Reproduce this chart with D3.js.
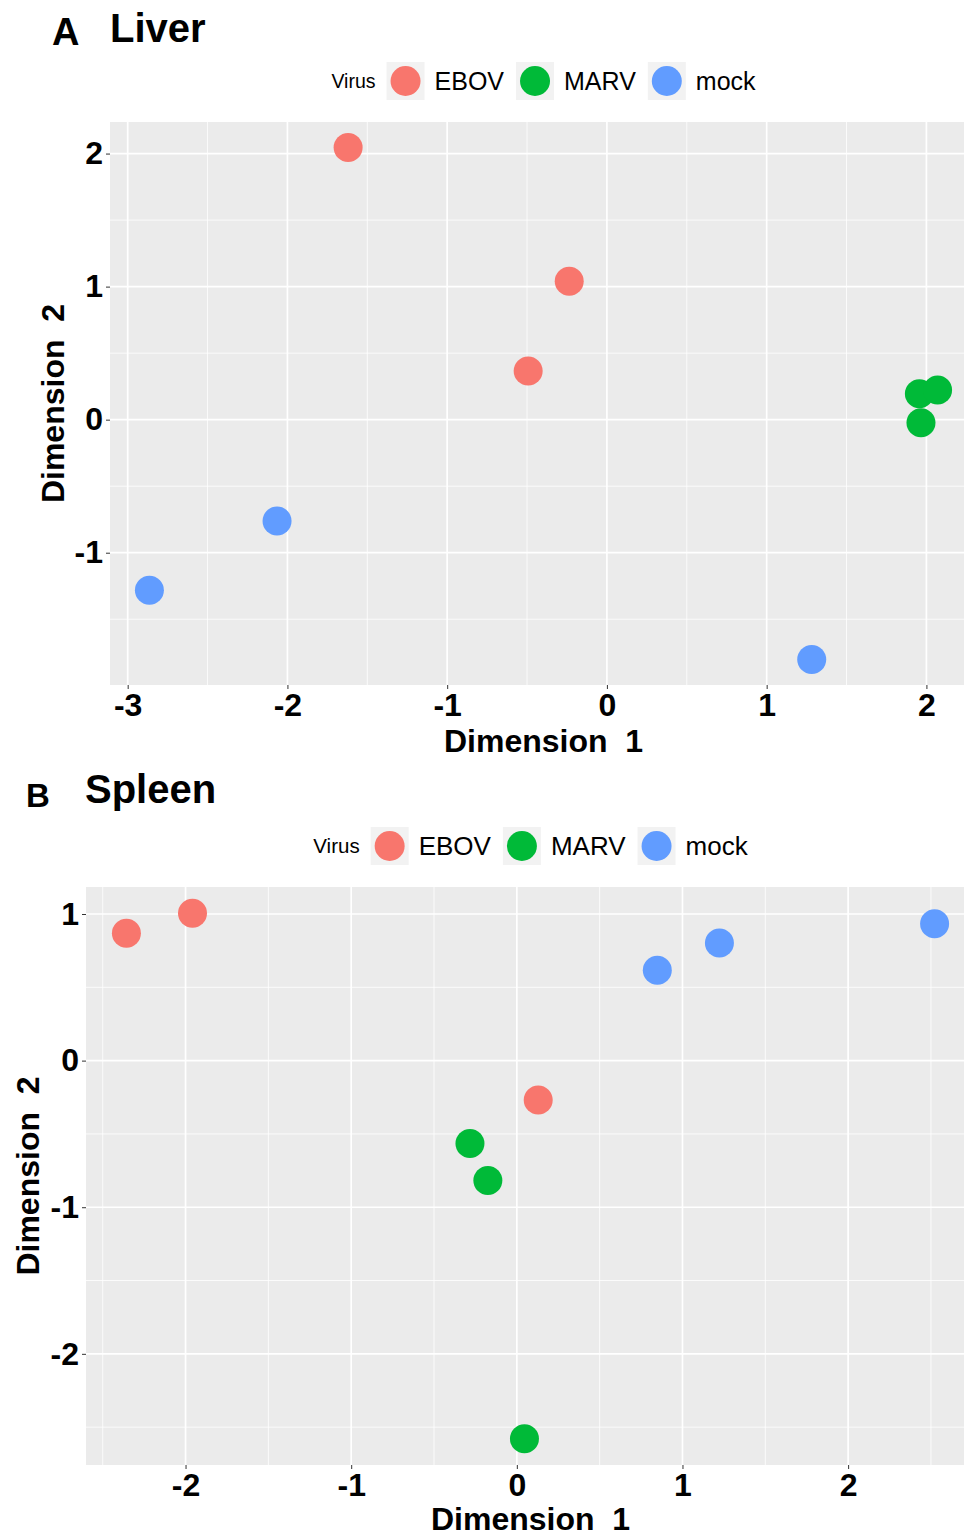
<!DOCTYPE html>
<html>
<head>
<meta charset="utf-8">
<script src="https://cdn.jsdelivr.net/npm/d3@7"></script>
<style>
  html, body { margin: 0; padding: 0; background: #fff; }
  svg { display: block; font-family: "Liberation Sans", Arial, Helvetica, sans-serif; }
</style>
</head>
<body>
<div id="chart"></div>
<script>
"use strict";

const virusLevels = ["EBOV", "MARV", "mock"];
const virusColors = ["#F8766D", "#00BA38", "#619CFF"];

// Panel A: liver MDS coordinates
const liverVirus = ["EBOV", "EBOV", "EBOV", "MARV", "MARV", "MARV", "mock", "mock", "mock"];
const liverDim1 = [-1.62, -0.236, -0.493, 1.956, 2.07, 1.966, -2.065, -2.864, 1.282];
const liverDim2 = [2.045, 1.04, 0.365, 0.195, 0.223, -0.023, -0.762, -1.283, -1.802];
const liverXTicks = [-3, -2, -1, 0, 1, 2];
const liverYTicks = [-1, 0, 1, 2];

// Panel B: spleen MDS coordinates
const spleenVirus = ["EBOV", "EBOV", "EBOV", "MARV", "MARV", "MARV", "mock", "mock", "mock"];
const spleenDim1 = [-2.357, -1.958, 0.129, -0.283, -0.175, 0.046, 0.848, 1.223, 2.522];
const spleenDim2 = [0.868, 1.005, -0.268, -0.566, -0.818, -2.579, 0.616, 0.802, 0.934];
const spleenXTicks = [-2, -1, 0, 1, 2];
const spleenYTicks = [-2, -1, 0, 1];

const width = 964;
const height = 1537;
const color = d3.scaleOrdinal().domain(virusLevels).range(virusColors);
// plain hyphen for negatives, like the R output
const tickText = (value) => String(value);

const svg = d3.select("#chart")
  .append("svg")
  .attr("width", width)
  .attr("height", height)
  .attr("viewBox", `0 0 ${width} ${height}`);

// ggplot-style 5% expansion of the data range
function expanded(values) {
  const [lo, hi] = d3.extent(values);
  const pad = (hi - lo) * 0.05;
  return [lo - pad, hi + pad];
}

function minorBreaks(ticks, domain) {
  const step = ticks[1] - ticks[0];
  const out = [ticks[0] - step / 2];
  ticks.forEach((t) => out.push(t + step / 2));
  return out.filter((v) => v > domain[0] && v < domain[1]);
}

function drawPanel(opts) {
  const { box, dim1, dim2, virus, xTicks, yTicks, letter, heading } = opts;
  const xDomain = expanded(dim1);
  const yDomain = expanded(dim2);
  const x = d3.scaleLinear().domain(xDomain).range([box.left, box.right]);
  const y = d3.scaleLinear().domain(yDomain).range([box.bottom, box.top]);
  const g = svg.append("g");

  // panel letter + heading
  g.append("text")
    .attr("x", letter.x)
    .attr("y", letter.y)
    .attr("font-size", letter.size)
    .attr("font-weight", 700)
    .attr("fill", "#000")
    .text(letter.text);

  g.append("text")
    .attr("x", heading.x)
    .attr("y", heading.y)
    .attr("font-size", 40)
    .attr("font-weight", 700)
    .attr("fill", "#000")
    .text(heading.text);

  // background
  g.append("rect")
    .attr("x", box.left)
    .attr("y", box.top)
    .attr("width", box.right - box.left)
    .attr("height", box.bottom - box.top)
    .attr("fill", "#EBEBEB");

  // minor grid
  g.selectAll("line.vminor")
    .data(minorBreaks(xTicks, xDomain))
    .join("line")
    .attr("x1", (d) => x(d)).attr("x2", (d) => x(d))
    .attr("y1", box.top).attr("y2", box.bottom)
    .attr("stroke", "#fff").attr("stroke-width", 0.8);

  g.selectAll("line.hminor")
    .data(minorBreaks(yTicks, yDomain))
    .join("line")
    .attr("x1", box.left).attr("x2", box.right)
    .attr("y1", (d) => y(d)).attr("y2", (d) => y(d))
    .attr("stroke", "#fff").attr("stroke-width", 0.8);

  // major grid
  g.selectAll("line.vmajor")
    .data(xTicks)
    .join("line")
    .attr("x1", (d) => x(d)).attr("x2", (d) => x(d))
    .attr("y1", box.top).attr("y2", box.bottom)
    .attr("stroke", "#fff").attr("stroke-width", 1.7);

  g.selectAll("line.hmajor")
    .data(yTicks)
    .join("line")
    .attr("x1", box.left).attr("x2", box.right)
    .attr("y1", (d) => y(d)).attr("y2", (d) => y(d))
    .attr("stroke", "#fff").attr("stroke-width", 1.7);

  // points
  const rows = dim1.map((v, i) => ({ d1: v, d2: dim2[i], virus: virus[i] }));
  g.selectAll("circle.pt")
    .data(rows)
    .join("circle")
    .attr("cx", (r) => x(r.d1))
    .attr("cy", (r) => y(r.d2))
    .attr("r", 14.5)
    .attr("fill", (r) => color(r.virus));

  // axes
  g.append("g")
    .attr("transform", `translate(0,${box.bottom})`)
    .call(d3.axisBottom(x).tickValues(xTicks).tickSize(4).tickPadding(4).tickFormat(tickText))
    .call((axis) => axis.select(".domain").remove())
    .call((axis) => axis.selectAll("line").attr("stroke", "#333"))
    .call((axis) => axis.selectAll("text")
      .attr("fill", "#000").attr("font-size", 32).attr("font-weight", 700)
      .attr("font-family", "Liberation Sans, Arial, sans-serif"));

  g.append("g")
    .attr("transform", `translate(${box.left},0)`)
    .call(d3.axisLeft(y).tickValues(yTicks).tickSize(4).tickPadding(3).tickFormat(tickText))
    .call((axis) => axis.select(".domain").remove())
    .call((axis) => axis.selectAll("line").attr("stroke", "#333"))
    .call((axis) => axis.selectAll("text")
      .attr("fill", "#000").attr("font-size", 32).attr("font-weight", 700)
      .attr("font-family", "Liberation Sans, Arial, sans-serif"));

  const cx = (box.left + box.right) / 2;
  const cy = (box.top + box.bottom) / 2;

  g.append("text")
    .attr("x", cx)
    .attr("y", opts.xTitleY)
    .attr("text-anchor", "middle")
    .attr("font-size", 32)
    .attr("font-weight", 700)
    .attr("fill", "#000")
    .attr("xml:space", "preserve")
    .text("Dimension  1");

  g.append("text")
    .attr("transform", `translate(${opts.yTitleX},${cy}) rotate(-90)`)
    .attr("text-anchor", "middle")
    .attr("font-size", 32)
    .attr("font-weight", 700)
    .attr("fill", "#000")
    .attr("xml:space", "preserve")
    .text("Dimension  2");

  // legend, centred over the panel
  const legend = g.append("g");
  const legendY = box.top - 41;
  const keySize = 38;
  const legendTitle = legend.append("text")
    .attr("y", legendY + 7)
    .attr("font-size", opts.legendFont - 5.5)
    .attr("fill", "#000")
    .text("Virus");
  let pos = legendTitle.node().getComputedTextLength() + 11;
  virusLevels.forEach((lvl, i) => {
    legend.append("rect")
      .attr("x", pos)
      .attr("y", legendY - keySize / 2)
      .attr("width", keySize)
      .attr("height", keySize)
      .attr("fill", "#F2F2F2");
    legend.append("circle")
      .attr("cx", pos + keySize / 2)
      .attr("cy", legendY)
      .attr("r", 15)
      .attr("fill", color(lvl));
    pos += keySize + 10;
    const label = legend.append("text")
      .attr("x", pos)
      .attr("y", legendY + 9)
      .attr("font-size", opts.legendFont)
      .attr("fill", "#000")
      .text(lvl);
    pos += label.node().getComputedTextLength();
    if (i < virusLevels.length - 1) pos += 12;
  });
  legend.attr("transform", `translate(${cx - pos / 2},0)`);
}

drawPanel({
  box: { left: 110, right: 977, top: 122, bottom: 685 },
  dim1: liverDim1, dim2: liverDim2, virus: liverVirus,
  xTicks: liverXTicks, yTicks: liverYTicks,
  letter: { text: "A", x: 52, y: 45, size: 38 },
  heading: { text: "Liver", x: 110, y: 42 },
  legendFont: 25,
  xTitleY: 752,
  yTitleX: 64,
});

drawPanel({
  box: { left: 86, right: 975, top: 887, bottom: 1465 },
  dim1: spleenDim1, dim2: spleenDim2, virus: spleenVirus,
  xTicks: spleenXTicks, yTicks: spleenYTicks,
  letter: { text: "B", x: 26, y: 807, size: 33 },
  heading: { text: "Spleen", x: 85, y: 803 },
  legendFont: 26,
  xTitleY: 1530,
  yTitleX: 39,
});
</script>
</body>
</html>
